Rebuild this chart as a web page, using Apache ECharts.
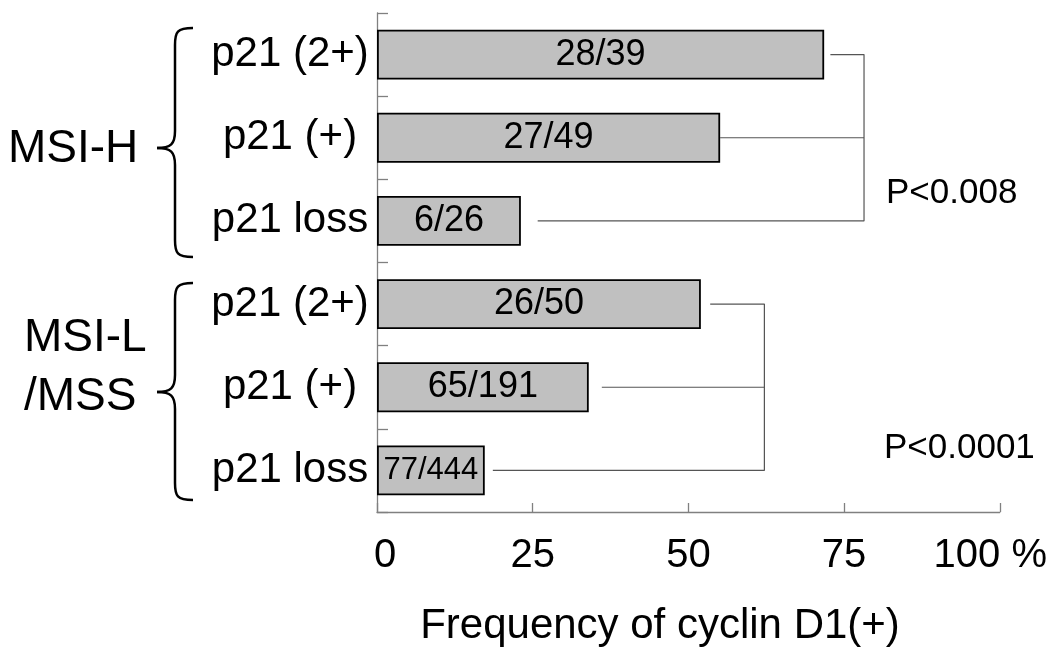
<!DOCTYPE html>
<html>
<head>
<meta charset="utf-8">
<script src="https://cdn.jsdelivr.net/npm/echarts@6/dist/echarts.min.js"></script>
<style>
  html, body { margin: 0; padding: 0; background: #fff; overflow: hidden; }
  #chart { width: 1050px; height: 660px; }
</style>
</head>
<body>
<div id="chart"></div>
<script>
// ---- data ----
const categories = ['p21 (2+)', 'p21 (+)', 'p21 loss', 'p21 (2+)', 'p21 (+)', 'p21 loss'];
const frequency = [71.8, 55.1, 23.1, 52.0, 34.0, 17.3];     // % cyclin D1(+)
const positives = [28, 27, 6, 26, 65, 77];
const totals = [39, 49, 26, 50, 191, 444];
const xTicks = [0, 25, 50, 75, 100];
const groupNames = ['MSI-H', 'MSI-L\n/MSS'];
const pValues = ['P<0.008', 'P<0.0001'];
// bracket connectors (x in % units, rows = category index)
const bracketH_starts = [72.8, 55.1, 25.8];
const bracketH_spine = 78.2;
const bracketL_starts = [53.5, 36.1, 18.6];
const bracketL_spine = 62.2;

const FONT = "'Liberation Sans', Arial, sans-serif";
const chart = echarts.init(document.getElementById('chart'), null, { renderer: 'canvas', width: 1050, height: 660 });

function bracketSeries(starts, spine, rows) {
  const lineStyle = { color: '#555', width: 1.2 };
  const common = { type: 'line', symbol: 'none', silent: true, animation: false, lineStyle, z: 1 };
  return [
    Object.assign({ data: [[starts[0], rows[0]], [spine, rows[0]], [spine, rows[2]], [starts[2], rows[2]]] }, common),
    Object.assign({ data: [[starts[1], rows[1]], [spine, rows[1]]] }, common)
  ];
}

const barLabels = positives.map((p, i) => p + '/' + totals[i]);

const option = {
  animation: false,
  backgroundColor: '#fff',
  grid: { left: 377, width: 624, top: 13, height: 499, containLabel: false },
  xAxis: {
    type: 'value',
    min: xTicks[0], max: xTicks[xTicks.length - 1], interval: 25,
    axisLine: { show: true, lineStyle: { color: '#808080', width: 1.3 } },
    axisTick: { show: true, inside: true, length: 9, lineStyle: { color: '#808080', width: 1.3 } },
    splitLine: { show: false },
    axisLabel: {
      margin: 24,
      color: '#000',
      fontFamily: FONT,
      fontSize: 40,
      formatter: function (v) {
        if (v === 100) return '{p|100 %}';
        if (v === 0) return '{z|0}';
        return '' + v;
      },
      rich: {
        p: { fontFamily: FONT, fontSize: 40, color: '#000', padding: [0, 19, 0, 0] },
        z: { fontFamily: FONT, fontSize: 40, color: '#000', padding: [0, 0, 0, 16] }
      }
    }
  },
  yAxis: {
    type: 'category',
    inverse: true,
    data: categories,
    axisLine: { show: true, lineStyle: { color: '#808080', width: 1.3 } },
    axisTick: { show: true, inside: true, length: 11, lineStyle: { color: '#808080', width: 1.3 } },
    axisLabel: {
      margin: 87,
      align: 'center',
      color: '#000',
      fontFamily: FONT,
      fontSize: 42
    }
  },
  series: [
    {
      type: 'bar',
      data: frequency.map((v, i) => i === 5 ? { value: v, label: { fontSize: 31 } } : v),
      barWidth: '60%',
      itemStyle: { color: '#c0c0c0', borderColor: '#000', borderWidth: 1.8 },
      label: {
        show: true,
        position: 'inside',
        color: '#000',
        fontFamily: FONT,
        fontSize: 36,
        formatter: function (p) { return barLabels[p.dataIndex]; }
      },
      z: 2
    }
  ].concat(bracketSeries(bracketH_starts, bracketH_spine, [0, 1, 2]))
   .concat(bracketSeries(bracketL_starts, bracketL_spine, [3, 4, 5])),
  graphic: []
};

chart.setOption(option);

// decorations: braces, group names, p-values, axis title
function brace(xEnd, xStem, xTip, yTop, yMid, yBot, r) {
  const st = { stroke: '#000', lineWidth: 2.5, fill: null };
  const els = [];
  els.push({ type: 'bezierCurve', shape: { x1: xEnd, y1: yTop, cpx1: xStem + 2, cpy1: yTop, cpx2: xStem, cpy2: yTop + 4, x2: xStem, y2: yTop + r }, style: st });
  els.push({ type: 'line', shape: { x1: xStem, y1: yTop + r, x2: xStem, y2: yMid - r }, style: st });
  els.push({ type: 'bezierCurve', shape: { x1: xStem, y1: yMid - r, cpx1: xStem, cpy1: yMid - 4, cpx2: xStem - 4, cpy2: yMid, x2: xTip, y2: yMid }, style: st });
  els.push({ type: 'bezierCurve', shape: { x1: xTip, y1: yMid, cpx1: xStem - 4, cpy1: yMid, cpx2: xStem, cpy2: yMid + 4, x2: xStem, y2: yMid + r }, style: st });
  els.push({ type: 'line', shape: { x1: xStem, y1: yMid + r, x2: xStem, y2: yBot - r }, style: st });
  els.push({ type: 'bezierCurve', shape: { x1: xStem, y1: yBot - r, cpx1: xStem, cpy1: yBot - 4, cpx2: xStem + 2, cpy2: yBot, x2: xEnd, y2: yBot }, style: st });
  return els;
}

const graphic = []
  .concat(brace(193, 175, 157, 28, 148, 257, 17))
  .concat(brace(193, 175, 157, 283, 392, 500, 17));

graphic.push({ type: 'text', x: 8, y: 149, style: { text: groupNames[0], font: '46px ' + FONT, fill: '#000', textAlign: 'left', textVerticalAlign: 'middle' } });
graphic.push({ type: 'text', x: 24, y: 368, style: { text: groupNames[1], font: '46px ' + FONT, fill: '#000', textAlign: 'left', textVerticalAlign: 'middle', lineHeight: 59 } });
graphic.push({ type: 'text', x: 886, y: 193, style: { text: pValues[0], font: '35px ' + FONT, fill: '#000', textAlign: 'left', textVerticalAlign: 'middle' } });
graphic.push({ type: 'text', x: 884, y: 448, style: { text: pValues[1], font: '35px ' + FONT, fill: '#000', textAlign: 'left', textVerticalAlign: 'middle' } });
graphic.push({ type: 'text', x: 660, y: 626, style: { text: 'Frequency of cyclin D1(+)', font: '42px ' + FONT, fill: '#000', textAlign: 'center', textVerticalAlign: 'middle' } });

chart.setOption({ graphic: graphic });
</script>
</body>
</html>
